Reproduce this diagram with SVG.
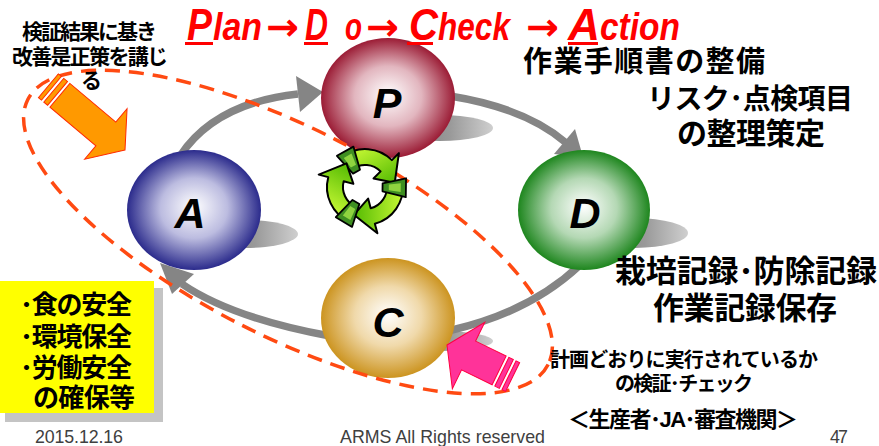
<svg xmlns="http://www.w3.org/2000/svg" xmlns:xlink="http://www.w3.org/1999/xlink" width="879" height="446" viewBox="0 0 879 446">
  <style>
    .title { font-family: "Liberation Sans", Arial, sans-serif; font-weight: 700; font-style: italic; fill: #ff0000; }
    .arr { font-family: "DejaVu Sans", sans-serif; font-weight: 700; fill: #ff0000; }
    .jp { font-family: "Liberation Sans", "Noto Sans CJK JP", sans-serif; font-weight: 700; fill: #000; }
    .letter { font-family: "Liberation Sans", Arial, sans-serif; font-weight: 700; font-style: italic; font-size: 43px; fill: #000; text-anchor: middle; }
    .foot { font-family: "Liberation Sans", Arial, sans-serif; font-size: 17.8px; fill: #404040; }
    .ring { fill: none; stroke: #858585; stroke-width: 7.5; }
    .head { fill: #858585; }
    .shadow { fill: url(#shadowGrad); }
    .dash { fill: none; stroke: #ff4a12; stroke-width: 3.5; stroke-dasharray: 15 9; }
    .rc-band { fill: url(#rcGrad); stroke: #000; stroke-width: 2; stroke-linejoin: round; }
    .rc-box { fill: #3f8f22; stroke: #000; stroke-width: 1.8; stroke-linejoin: round; }
    .rc-box-in { fill: #8fd43f; }
  </style>
  <defs>
    <linearGradient id="shadowGrad" x1="0" y1="0" x2="1" y2="0">
      <stop offset="0" stop-color="#707070"/>
      <stop offset="0.6" stop-color="#9a9a9a"/>
      <stop offset="1" stop-color="#cfcfcf"/>
    </linearGradient>
    <radialGradient id="gP" cx="50%" cy="50%" r="50%" fx="50%" fy="47%">
      <stop offset="0" stop-color="#ffffff"/>
      <stop offset="0.5" stop-color="#e2b6bf"/>
      <stop offset="1" stop-color="#9b1c35"/>
    </radialGradient>
    <radialGradient id="gD" cx="50%" cy="50%" r="50%" fx="50%" fy="47%">
      <stop offset="0" stop-color="#ffffff"/>
      <stop offset="0.5" stop-color="#b4d8b4"/>
      <stop offset="1" stop-color="#1e861e"/>
    </radialGradient>
    <radialGradient id="gA" cx="50%" cy="50%" r="50%" fx="50%" fy="47%">
      <stop offset="0" stop-color="#ffffff"/>
      <stop offset="0.5" stop-color="#bcbce0"/>
      <stop offset="1" stop-color="#2b2b8c"/>
    </radialGradient>
    <radialGradient id="gC" cx="50%" cy="50%" r="50%" fx="50%" fy="47%">
      <stop offset="0" stop-color="#ffffff"/>
      <stop offset="0.5" stop-color="#f0d9aa"/>
      <stop offset="1" stop-color="#cc9420"/>
    </radialGradient>
    <linearGradient id="rcGrad" x1="0" y1="0" x2="1" y2="1">
      <stop offset="0" stop-color="#d4ff3a"/>
      <stop offset="1" stop-color="#4fb800"/>
    </linearGradient>
    <!-- one arm of the recycling mark, centred on (0,0) -->
    <g id="rcArm">
      <path class="rc-band" d="M-21.8,-31.1 A38,38 0 0 1 26.9,-26.9 L33.9,-33.9 L29.7,-4.2 L8.5,-8.5 L15.6,-15.6 A22,22 0 0 0 -12.6,-18 Z"/>
      <path class="rc-box" d="M-28.1,-31.2 L-11.6,-40.4 L-5,-17.3 L-12,-13.4 Z"/>
      <path class="rc-box-in" d="M-21.2,-29.1 L-13.5,-33.4 L-9,-22.3 L-14.1,-19.4 Z"/>
    </g>
    <!-- striped block arrows pointing along +x, tip at the origin -->
    <g id="arrowOrange">
      <path d="M0,0 L-25,33 L-25,15.5 L-85,15.5 L-85,-15.5 L-25,-15.5 L-25,-33 Z"/>
      <rect x="-93" y="-15.5" width="5" height="31"/>
      <rect x="-100" y="-15.5" width="4" height="31"/>
    </g>
    <g id="arrowPink">
      <path d="M0,0 L-24,37 L-24,16 L-58,16 L-58,-16 L-24,-16 L-24,-37 Z"/>
      <rect x="-66" y="-16" width="5" height="32"/>
      <rect x="-73" y="-16" width="4" height="32"/>
    </g>
  </defs>

  <rect width="879" height="446" fill="#ffffff"/>

  <!-- drop shadows of the four balls -->
  <g id="shadows">
    <ellipse class="shadow" cx="440" cy="128" rx="53" ry="13"/>
    <ellipse class="shadow" cx="635" cy="233" rx="53" ry="15"/>
    <ellipse class="shadow" cx="245" cy="234" rx="53" ry="14"/>
    <ellipse class="shadow" cx="440" cy="341" rx="53" ry="10"/>
  </g>

  <!-- cycle connectors -->
  <g id="connectors">
    <path class="ring" d="M180,156 Q215,103 298,94"/>
    <polygon class="head" points="296,76 300,112 323,92"/>
    <path class="ring" d="M450,96 Q525,108 565,142"/>
    <polygon class="head" points="554,154 575,129 583,157"/>
    <path class="ring" d="M580,265 Q530,312 452,330 L440,332"/>
    <path class="ring" d="M330,336 Q232,318 182,284"/>
    <polygon class="head" points="160,263 172,294 194,274"/>
  </g>

  <g id="node-P">
    <ellipse cx="388" cy="98" rx="67" ry="60" fill="url(#gP)"/>
    <text class="letter" x="387" y="118">P</text>
  </g>
  <g id="node-D">
    <ellipse cx="584" cy="210" rx="66" ry="60" fill="url(#gD)"/>
    <text class="letter" x="585" y="228">D</text>
  </g>
  <g id="node-A">
    <ellipse cx="194" cy="210" rx="67" ry="60" fill="url(#gA)"/>
    <text class="letter" x="190" y="228">A</text>
  </g>
  <g id="node-C">
    <ellipse cx="388" cy="318" rx="67" ry="60" fill="url(#gC)"/>
    <text class="letter" x="388" y="337">C</text>
  </g>

  <!-- dashed grouping around A and C -->
  <ellipse id="scope" class="dash" cx="288" cy="232" rx="292" ry="104" transform="rotate(27 288 232)"/>

  <!-- recycling mark -->
  <g id="recycle" transform="translate(365,187)">
    <use xlink:href="#rcArm"/>
    <use xlink:href="#rcArm" transform="rotate(120)"/>
    <use xlink:href="#rcArm" transform="rotate(240)"/>
  </g>

  <!-- block arrows -->
  <g id="arrow-improve" fill="#ff9900" stroke="#ff2a00" stroke-width="1">
    <use xlink:href="#arrowOrange" transform="translate(125,150) rotate(40)"/>
  </g>
  <g id="arrow-check" fill="#ff3399" stroke="#ff0040" stroke-width="1">
    <use xlink:href="#arrowPink" transform="translate(447,345) rotate(206)"/>
  </g>

  <!-- heading -->
  <g id="title">
    <text class="title" x="187" y="40" font-size="44" textLength="25" lengthAdjust="spacingAndGlyphs">P</text>
    <text class="title" x="213" y="40" font-size="38" textLength="49" lengthAdjust="spacingAndGlyphs">lan</text>
    <text class="arr" x="266" y="40" font-size="38" textLength="33" lengthAdjust="spacingAndGlyphs">→</text>
    <text class="title" x="305" y="40" font-size="44" textLength="23" lengthAdjust="spacingAndGlyphs">D</text>
    <text class="title" x="345" y="40" font-size="38" textLength="17" lengthAdjust="spacingAndGlyphs">o</text>
    <text class="arr" x="366" y="40" font-size="38" textLength="33" lengthAdjust="spacingAndGlyphs">→</text>
    <text class="title" x="409" y="40" font-size="44" textLength="29" lengthAdjust="spacingAndGlyphs">C</text>
    <text class="title" x="438" y="40" font-size="38" textLength="72" lengthAdjust="spacingAndGlyphs">heck</text>
    <text class="arr" x="526" y="40" font-size="38" textLength="33" lengthAdjust="spacingAndGlyphs">→</text>
    <text class="title" x="568" y="40" font-size="44" textLength="32" lengthAdjust="spacingAndGlyphs">A</text>
    <text class="title" x="600" y="40" font-size="38" textLength="80" lengthAdjust="spacingAndGlyphs">ction</text>
    <g fill="#ff0000">
      <rect x="185" y="42" width="28" height="3"/>
      <rect x="304" y="42" width="24" height="3"/>
      <rect x="407" y="42" width="26" height="3"/>
      <rect x="568" y="42" width="30" height="3"/>
    </g>
  </g>

  <!-- annotations -->
  <g id="labels">
    <text class="jp" x="22" y="39" font-size="21" textLength="135">検証結果に基き</text>
    <text class="jp" x="12" y="64" font-size="21" textLength="156">改善是正策を講じ</text>
    <text class="jp" x="81" y="88" font-size="21">る</text>
    <text class="jp" x="523" y="72" font-size="29" textLength="242">作業手順書の整備</text>
    <text class="jp" x="647" y="109" font-size="28" textLength="206">リスク･点検項目</text>
    <text class="jp" x="677" y="144" font-size="30" textLength="148">の整理策定</text>
    <text class="jp" x="615" y="282" font-size="31" textLength="262">栽培記録･防除記録</text>
    <text class="jp" x="653" y="319" font-size="31" textLength="184">作業記録保存</text>
    <text class="jp" x="550" y="367" font-size="20" textLength="268">計画どおりに実行されているか</text>
    <text class="jp" x="615" y="391" font-size="20" textLength="138">の検証･チェック</text>
    <text class="jp" x="568" y="427" font-size="22" textLength="230">＜生産者･JA･審査機関＞</text>
  </g>

  <!-- goals box -->
  <g id="goals">
    <rect x="5" y="288" width="158" height="134" fill="#c4c4c4"/>
    <rect x="0" y="281" width="154" height="132" fill="#ffff00"/>
    <text class="jp" x="20" y="314" font-size="26" textLength="112">･食の安全</text>
    <text class="jp" x="20" y="346" font-size="26" textLength="112">･環境保全</text>
    <text class="jp" x="20" y="377" font-size="26" textLength="112">･労働安全</text>
    <text class="jp" x="33" y="407" font-size="26" textLength="102">の確保等</text>
  </g>

  <!-- footer -->
  <g id="footer">
    <text class="foot" x="35" y="443" textLength="88">2015.12.16</text>
    <text class="foot" x="340" y="443" textLength="205">ARMS All Rights reserved</text>
    <text class="foot" x="830" y="443" textLength="18">47</text>
  </g>
</svg>
